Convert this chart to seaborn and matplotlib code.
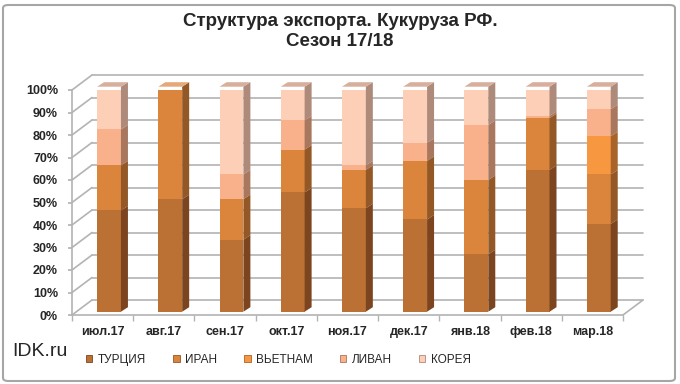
import matplotlib

matplotlib.use("Agg")
import matplotlib.pyplot as plt
import matplotlib.transforms as mtransforms
import numpy as np
import seaborn as sns
from matplotlib.patches import FancyBboxPatch, Patch, Polygon

MONTHS = ["июл.17", "авг.17", "сен.17", "окт.17", "ноя.17",
          "дек.17", "янв.18", "фев.18", "мар.18"]
SERIES = ["ТУРЦИЯ", "ИРАН", "ВЬЕТНАМ", "ЛИВАН", "КОРЕЯ"]

TURKEY = [45, 50, 32, 53, 46, 41, 25.5, 63, 39]
IRAN = [20, 50, 18, 19, 17, 26, 33, 23, 22]
VIETNAM = [0, 0, 0, 0, 0, 0, 0, 0, 17]
LEBANON = [16, 0, 11, 13, 2, 8, 24.5, 1, 12]
KOREA = [19, 0, 39, 15, 35, 25, 17, 13, 10]

FRONT = ["#BB7133", "#DA853B", "#F7973F", "#F8B18A", "#FCCFB6"]
SIDE = ["#7C4520", "#935826", "#A9642A", "#A8775E", "#AE8A7B"]
TOP = ["#CF9A72", "#E5A878", "#F5B47C", "#DDAA90", "#D8AE9C"]

GRID = "#B3B3B3"
W, H = 680, 384
AX_L, AX_R, AX_B, AX_T = 72, 623, 69, 294  # front plane in pixels


def main() -> None:
    sns.set_theme(style="white")
    plt.rcParams["font.family"] = ["Liberation Sans", "DejaVu Sans"]

    fig = plt.figure(figsize=(W / 100, H / 100), dpi=100)
    ax = fig.add_axes([AX_L / W, AX_B / H, (AX_R - AX_L) / W, (AX_T - AX_B) / H])

    values = np.array([TURKEY, IRAN, VIETNAM, LEBANON, KOREA], dtype=float)
    cum = np.cumsum(values, axis=0)

    # stacked bars: draw the cumulative totals from the top layer down
    for i in reversed(range(len(SERIES))):
        sns.barplot(x=MONTHS, y=cum[i], order=MONTHS, color=FRONT[i],
                    saturation=1, width=0.39, errorbar=None, ax=ax, zorder=3)

    ax.set_xlim(-0.5, len(MONTHS) - 0.5)
    ax.set_ylim(0, 100)

    px_x = (AX_R - AX_L) / len(MONTHS)
    px_y = (AX_T - AX_B) / 100
    # 3D depth of the chart walls and of the bars, in data units
    wall_dx, wall_dy = 20 / px_x, 15 / px_y
    bar_dx, bar_dy = 7 / px_x, 4.5 / px_y
    bar_trans = mtransforms.offset_copy(ax.transData, fig=fig, x=6.4, y=3.3, units="dots")

    n = len(MONTHS)
    for k, patch in enumerate(ax.patches[: n * len(SERIES)]):
        layer = len(SERIES) - 1 - k // n
        j = k % n
        patch.set_transform(bar_trans)
        patch.set_edgecolor("none")
        x0 = patch.get_x()
        x1 = x0 + patch.get_width()
        y1 = cum[layer][j]
        y0 = cum[layer - 1][j] if layer > 0 else 0
        if y1 - y0 > 0:
            ax.add_patch(Polygon([(x1, y0), (x1 + bar_dx, y0 + bar_dy),
                                  (x1 + bar_dx, y1 + bar_dy), (x1, y1)],
                                 closed=True, facecolor=SIDE[layer], edgecolor="none",
                                 transform=bar_trans, clip_on=False, zorder=3))
            top_layer = max(i for i in range(len(SERIES)) if values[i][j] > 0)
            if layer == top_layer:
                ax.add_patch(Polygon([(x0, y1), (x1, y1), (x1 + bar_dx, y1 + bar_dy),
                                      (x0 + bar_dx, y1 + bar_dy)],
                                     closed=True, facecolor=TOP[layer], edgecolor="none",
                                     transform=bar_trans, clip_on=False, zorder=3))

    # back wall grid, left wall diagonals and floor
    for y in range(0, 101, 10):
        ax.plot([-0.5, -0.5 + wall_dx], [y, y + wall_dy], color=GRID, lw=1.2,
                clip_on=False, zorder=1)
        ax.plot([-0.5 + wall_dx, n - 0.5 + wall_dx], [y + wall_dy, y + wall_dy],
                color=GRID, lw=1.2, clip_on=False, zorder=1)
    ax.plot([n - 0.5, n - 0.5 + wall_dx], [0, wall_dy], color=GRID, lw=1.2,
            clip_on=False, zorder=1)

    for side in ["top", "right"]:
        ax.spines[side].set_visible(False)
    for side in ["left", "bottom"]:
        ax.spines[side].set_color(GRID)
        ax.spines[side].set_linewidth(1.2)

    ax.set_yticks(range(0, 101, 10))
    ax.set_yticklabels([f"{v}%" for v in range(0, 101, 10)], fontsize=9, fontweight="bold")
    ax.set_xticks(range(n))
    ax.set_xticklabels(MONTHS, fontsize=9, fontweight="bold")
    ax.set_xticks(np.arange(-0.5, n, 1), minor=True)
    ax.tick_params(axis="y", which="both", left=True, length=3, color=GRID, pad=7)
    ax.tick_params(axis="x", which="major", bottom=False, pad=2)
    ax.tick_params(axis="x", which="minor", bottom=True, length=4, color=GRID)
    ax.set_xlabel("")
    ax.set_ylabel("")
    ax.grid(False)

    fig.text(0.5, 1 - 13 / H, "Структура экспорта. Кукуруза РФ.\nСезон 17/18",
             ha="center", va="top", fontsize=13.5, fontweight="bold", linespacing=1.2)
    fig.text(12 / W, 1 - 352 / H, "IDK.ru", ha="left", va="center", fontsize=14)

    handles = [Patch(facecolor=FRONT[i], edgecolor=SIDE[i], linewidth=0.6)
               for i in range(len(SERIES))]
    fig.legend(handles, SERIES, loc="center left", bbox_to_anchor=(86 / W, 1 - 360 / H),
               ncol=len(SERIES), frameon=False, fontsize=8.5, handlelength=0.55,
               handleheight=0.55, handletextpad=0.45, columnspacing=2.3,
               borderaxespad=0, borderpad=0)

    fig.add_artist(FancyBboxPatch((3 / W, 3 / H), 1 - 8 / W, 1 - 8 / H,
                                  boxstyle="round,pad=0,rounding_size=0.008",
                                  transform=fig.transFigure, facecolor="none",
                                  edgecolor="#A6A6A6", linewidth=1.5))

    fig.savefig("out.png", dpi=100)
    plt.close(fig)


if __name__ == "__main__":
    main()
